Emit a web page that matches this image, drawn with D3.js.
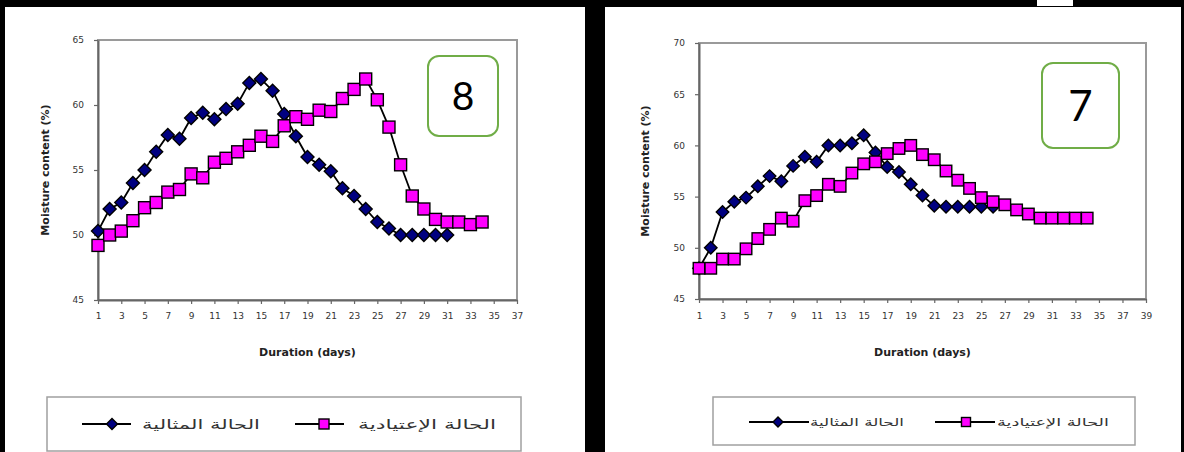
<!DOCTYPE html>
<html>
<head>
<meta charset="utf-8">
<script src="https://cdn.jsdelivr.net/npm/d3@7"></script>
<style>
  html, body { margin: 0; padding: 0; background: #000; }
  svg { display: block; }
</style>
</head>
<body>
<svg id="fig" width="1184" height="452"></svg>
<script>
// ---- data -------------------------------------------------------------
const seriesNames = ["الحالة المثالية", "الحالة الإعتيادية"];

// Figure 8: moisture content (%) per day, starting at day 1
const ideal8 = [50.3, 52.0, 52.5, 54.0, 55.0, 56.4, 57.7, 57.4, 59.0, 59.4,
                58.9, 59.7, 60.1, 61.7, 62.0, 61.1, 59.3, 57.6, 56.0, 55.4,
                54.9, 53.6, 53.0, 52.0, 51.0, 50.5, 50.0, 50.0, 50.0, 50.0, 50.0];
const normal8 = [49.2, 50.0, 50.3, 51.1, 52.1, 52.5, 53.3, 53.5, 54.7, 54.4,
                 55.6, 55.9, 56.4, 56.9, 57.6, 57.2, 58.4, 59.1, 58.9, 59.6,
                 59.5, 60.5, 61.2, 62.0, 60.4, 58.3, 55.4, 53.0, 52.0, 51.2,
                 51.0, 51.0, 50.8, 51.0];

// Figure 7
const ideal7 = [48.0, 50.0, 53.5, 54.5, 54.9, 56.0, 57.0, 56.5, 58.0, 58.9,
                58.4, 60.0, 60.0, 60.2, 61.0, 59.3, 57.9, 57.4, 56.2, 55.1,
                54.1, 54.0, 54.0, 54.0, 54.0, 54.0];
const normal7 = [48.0, 48.0, 48.9, 48.9, 49.9, 50.9, 51.8, 52.9, 52.6, 54.6,
                 55.1, 56.2, 56.0, 57.3, 58.2, 58.4, 59.2, 59.7, 60.0, 59.1,
                 58.6, 57.5, 56.6, 55.8, 54.9, 54.5, 54.2, 53.7, 53.3, 52.9,
                 52.9, 52.9, 52.9, 52.9];

const xTicks8 = [1, 3, 5, 7, 9, 11, 13, 15, 17, 19, 21, 23, 25, 27, 29, 31, 33, 35, 37];
const xTicks7 = [1, 3, 5, 7, 9, 11, 13, 15, 17, 19, 21, 23, 25, 27, 29, 31, 33, 35, 37, 39];
const yTicks8 = [45, 50, 55, 60, 65];
const yTicks7 = [45, 50, 55, 60, 65, 70];

const xTitle = "Duration (days)";
const yTitle = "Moisture content (%)";

// ---- layout -----------------------------------------------------------
const panels = [
  {
    label: "8", ideal: ideal8, normal: normal8, xTicks: xTicks8, yTicks: yTicks8,
    plot: { x0: 98, x1: 517, y0: 40, y1: 300 },
    yTitleX: 45, xTitleY: 356, pad: { x: 9, y: 10 },
    box: { x: 428, y: 56, w: 70, h: 80, fs: 39 },
    legend: { x: 47, y: 397, w: 474, h: 54,
      items: [ { l1: 82, m: 112, l2: 131, tc: 201, tw: 118 },
               { l1: 295, m: 324, l2: 344, tc: 427, tw: 138 } ],
      cy: 424, mk: 10, fs: 13 },
    mark: 12
  },
  {
    label: "7", ideal: ideal7, normal: normal7, xTicks: xTicks7, yTicks: yTicks7,
    plot: { x0: 699, x1: 1146, y0: 43, y1: 299 },
    yTitleX: 645, xTitleY: 356, pad: { x: 10, y: 10 },
    box: { x: 1042, y: 63, w: 77, h: 85, fs: 42 },
    legend: { x: 713, y: 397, w: 422, h: 48,
      items: [ { l1: 749, m: 778, l2: 809, tc: 857, tw: 94 },
               { l1: 935, m: 966, l2: 995, tc: 1053, tw: 112 } ],
      cy: 422, mk: 9, fs: 11 },
    mark: 11.5
  }
];

const svg = d3.select("#fig");

// page background and the two white panels
svg.append("rect").attr("width", 1184).attr("height", 452).attr("fill", "#000");
svg.append("rect").attr("x", 5).attr("y", 7).attr("width", 580).attr("height", 445).attr("fill", "#fff");
svg.append("rect").attr("x", 605).attr("y", 7).attr("width", 576).attr("height", 445).attr("fill", "#fff");
svg.append("rect").attr("x", 1037).attr("y", 0).attr("width", 36).attr("height", 6).attr("fill", "#fff");

const navy = "#000080", pink = "#ff00ff";

function diamondPath(r) {
  return `M0,${-r}L${r},0L0,${r}L${-r},0Z`;
}

function drawMarker(g, kind, cx, cy, size) {
  if (kind === "diamond") {
    g.append("path")
      .attr("d", diamondPath(size / 2 + 0.5))
      .attr("transform", `translate(${cx},${cy})`)
      .attr("fill", navy).attr("stroke", "#000").attr("stroke-width", 1.4);
  } else {
    g.append("rect")
      .attr("x", cx - size / 2).attr("y", cy - size / 2)
      .attr("width", size).attr("height", size)
      .attr("fill", pink).attr("stroke", "#000").attr("stroke-width", 1.4);
  }
}

panels.forEach(p => {
  const g = svg.append("g");
  const xMax = p.xTicks[p.xTicks.length - 1];
  const yMin = p.yTicks[0], yMax = p.yTicks[p.yTicks.length - 1];
  const x = d3.scaleLinear().domain([1, xMax]).range([p.plot.x0, p.plot.x1]);
  const y = d3.scaleLinear().domain([yMin, yMax]).range([p.plot.y1, p.plot.y0]);

  // plot-area frame
  g.append("rect")
    .attr("x", p.plot.x0).attr("y", p.plot.y0)
    .attr("width", p.plot.x1 - p.plot.x0).attr("height", p.plot.y1 - p.plot.y0)
    .attr("fill", "none").attr("stroke", "#9a9a9a").attr("stroke-width", 2);

  // axes
  const yAxis = g.append("g").attr("transform", `translate(${p.plot.x0},0)`)
    .call(d3.axisLeft(y).tickValues(p.yTicks).tickSize(4).tickPadding(p.pad.y).tickSizeOuter(0));
  const xAxis = g.append("g").attr("transform", `translate(0,${p.plot.y1})`)
    .call(d3.axisBottom(x).tickValues(p.xTicks).tickSize(4).tickPadding(p.pad.x).tickSizeOuter(0));
  [yAxis, xAxis].forEach(a => {
    a.select(".domain").attr("stroke", "#666").attr("stroke-width", 2);
    a.selectAll(".tick line").attr("stroke", "#666").attr("stroke-width", 1.2);
    a.selectAll(".tick text")
      .attr("fill", "#333")
      .style("font-family", "'DejaVu Sans', sans-serif")
      .style("font-size", "9px");
  });

  // axis titles
  g.append("text")
    .attr("x", (p.plot.x0 + p.plot.x1) / 2).attr("y", p.xTitleY)
    .attr("text-anchor", "middle")
    .style("font-family", "'DejaVu Sans', sans-serif").style("font-size", "11px")
    .style("font-weight", "bold").attr("fill", "#222")
    .text(xTitle);
  g.append("text")
    .attr("transform", `translate(${p.yTitleX},${(p.plot.y0 + p.plot.y1) / 2}) rotate(-90)`)
    .attr("text-anchor", "middle").attr("dy", "0.35em")
    .style("font-family", "'DejaVu Sans', sans-serif").style("font-size", "11px")
    .style("font-weight", "bold").attr("fill", "#222")
    .text(yTitle);

  // series: line first, then markers
  const line = d3.line().x((d, i) => x(i + 1)).y(d => y(d));
  [[p.ideal, "diamond"], [p.normal, "square"]].forEach(([vals, kind]) => {
    const sg = g.append("g");
    sg.append("path").datum(vals).attr("d", line)
      .attr("fill", "none").attr("stroke", "#000").attr("stroke-width", 1.8);
    vals.forEach((v, i) => drawMarker(sg, kind, x(i + 1), y(v), p.mark));
  });

  // numbered label box
  g.append("rect")
    .attr("x", p.box.x).attr("y", p.box.y).attr("width", p.box.w).attr("height", p.box.h)
    .attr("rx", 11).attr("ry", 11)
    .attr("fill", "#fff").attr("stroke", "#70ad47").attr("stroke-width", 2);
  g.append("text")
    .attr("x", p.box.x + p.box.w / 2).attr("y", p.box.y + p.box.h / 2)
    .attr("dy", "0.36em").attr("text-anchor", "middle")
    .style("font-family", "Lato, 'Open Sans', sans-serif").style("font-size", p.box.fs + "px")
    .attr("fill", "#000")
    .text(p.label);

  // legend
  const L = p.legend;
  g.append("rect")
    .attr("x", L.x).attr("y", L.y).attr("width", L.w).attr("height", L.h)
    .attr("fill", "#fff").attr("stroke", "#a0a0a0").attr("stroke-width", 1.5);
  ["diamond", "square"].forEach((kind, k) => {
    const it = L.items[k];
    g.append("line")
      .attr("x1", it.l1).attr("x2", it.l2).attr("y1", L.cy).attr("y2", L.cy)
      .attr("stroke", "#000").attr("stroke-width", 1.8);
    drawMarker(g, kind, it.m, L.cy, L.mk);
    // label text at a fixed size, stretched horizontally to its slot width
    const tg = g.append("g").attr("transform", `translate(${it.tc},${L.cy})`);
    const t = tg.append("text")
      .attr("x", 0).attr("y", 0).attr("dy", "0.35em")
      .attr("text-anchor", "middle")
      .style("font-family", "'DejaVu Sans', sans-serif").style("font-size", L.fs + "px")
      .attr("fill", "#333")
      .text(seriesNames[k]);
    const w = t.node().getComputedTextLength();
    if (w > 0) t.attr("transform", `scale(${(it.tw / w).toFixed(3)},1)`);
  });
});
</script>
</body>
</html>
